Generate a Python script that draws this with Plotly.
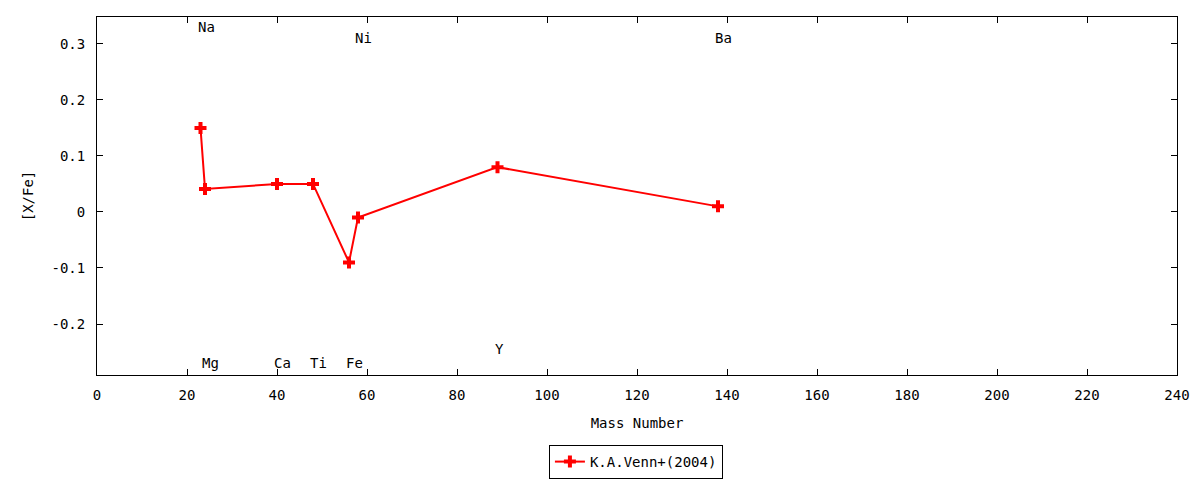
import plotly.graph_objects as go

# abundance data (K.A.Venn+ 2004)
elements = ["Na", "Mg", "Ca", "Ti", "Fe", "Ni", "Y", "Ba"]
mass = [23, 24, 40, 48, 56, 58, 89, 138]
x_fe = [0.15, 0.041, 0.05, 0.05, -0.09, -0.01, 0.08, 0.01]
label_y = [0.33, -0.27, -0.27, -0.27, -0.27, 0.311, -0.245, 0.311]

x_ticks = list(range(0, 241, 20))
y_ticks = [-0.2, -0.1, 0, 0.1, 0.2, 0.3]
y_ticktext = ["-0.2", "-0.1", "0", "0.1", "0.2", "0.3"]

font = "DejaVu Sans Mono"

fig = go.Figure()
fig.add_trace(go.Scatter(
    x=mass, y=x_fe, mode="lines+markers", name="K.A.Venn+(2004)",
    line=dict(color="#ff0000", width=2),
    marker=dict(symbol="cross", size=10, color="#ff0000"),
))

for el, m, ly in zip(elements, mass, label_y):
    fig.add_annotation(x=m, y=ly, text=el, showarrow=False, xanchor="left",
                       xshift=-5, font=dict(family=font, size=14, color="black"))

axis = dict(showgrid=False, zeroline=False, showline=True, linecolor="black",
            linewidth=1, mirror="ticks", ticks="inside", ticklen=6,
            tickcolor="black", tickfont=dict(family=font, size=14, color="black"))

fig.update_xaxes(range=[0, 240], tickvals=x_ticks, ticklabelstandoff=7,
                 title=dict(text="Mass Number", font=dict(family=font, size=14, color="black"), standoff=16),
                 **axis)
fig.update_yaxes(range=[-0.291, 0.348], tickvals=y_ticks, ticktext=y_ticktext,
                 ticklabelstandoff=8,
                 title=dict(text="[X/Fe]", font=dict(family=font, size=14, color="black"), standoff=14),
                 **axis)

# page body has an 8px margin, so the figure is shrunk to fit the 1200x480 window
fig.update_layout(
    width=1192, height=472,
    margin=dict(l=89, r=23, t=9, b=105, autoexpand=False),
    plot_bgcolor="white", paper_bgcolor="white",
    font=dict(family=font, size=14, color="black"),
    showlegend=True,
    legend=dict(x=0.499, y=-0.243, xanchor="center", yanchor="middle",
                bordercolor="black", borderwidth=1, bgcolor="white",
                font=dict(family=font, size=14, color="black")),
)

fig.write_html("out.html")
